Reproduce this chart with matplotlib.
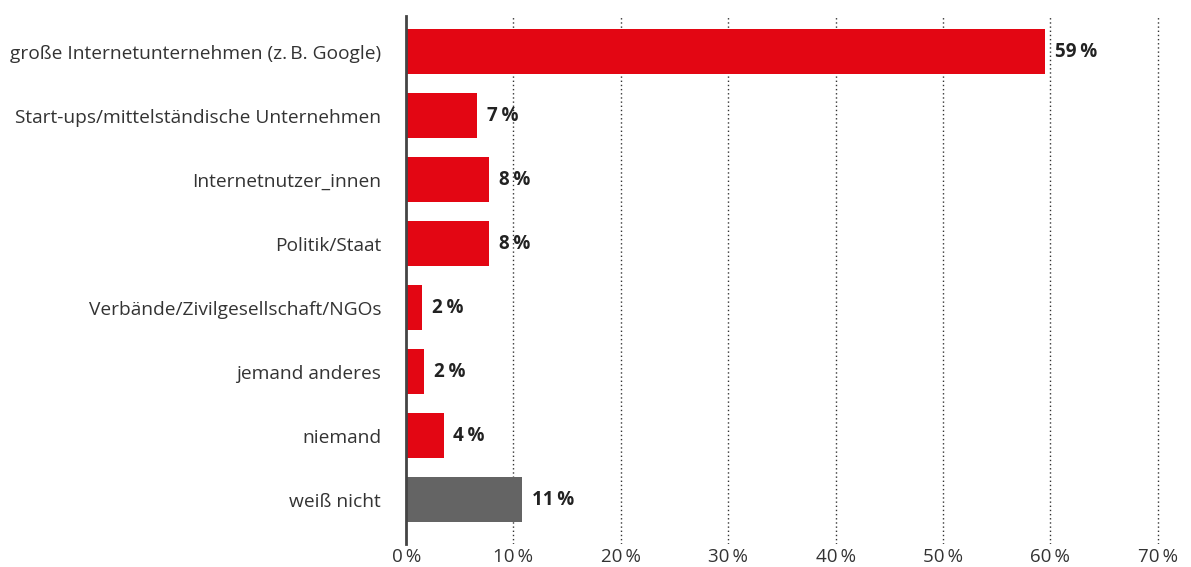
import matplotlib.pyplot as plt
import numpy as np

plt.rcParams['font.family'] = ['Open Sans', 'DejaVu Sans']

categories = ['große Internetunternehmen (z.\u2009B. Google)',
              'Start-ups/mittelständische Unternehmen',
              'Internetnutzer_innen',
              'Politik/Staat',
              'Verbände/Zivilgesellschaft/NGOs',
              'jemand anderes',
              'niemand',
              'weiß nicht']
values = [59.5, 6.6, 7.7, 7.7, 1.5, 1.7, 3.5, 10.8]
labels = ['59', '7', '8', '8', '2', '2', '4', '11']
colors = ['#e30613'] * 7 + ['#646464']
xticks = [0, 10, 20, 30, 40, 50, 60, 70]

fig = plt.figure(figsize=(11.91, 5.67), dpi=100)
ax = fig.add_axes([0.341, 0.04, 0.649, 0.932])

y = np.arange(len(categories))
ax.barh(y, values, height=0.71, color=colors, zorder=3)

for yi, v, lab in zip(y, values, labels):
    ax.annotate(lab + '\u2009%', (v, yi), xytext=(7, 0), textcoords='offset points',
                va='center', ha='left', fontsize=13.5, fontweight='bold', color='#222222')

ax.set_xlim(0, 72)
ax.set_ylim(7.70, -0.56)
ax.set_yticks(y)
ax.set_yticklabels(categories, fontsize=13.8, color='#333333')
ax.set_xticks(xticks)
ax.set_xticklabels([f'{t}\u2009%' for t in xticks], fontsize=13.5, color='#333333')
ax.tick_params(axis='y', length=0, pad=18)
ax.tick_params(axis='x', length=0, pad=3)

ax.grid(axis='x', linestyle=(0, (1, 2)), color='#333333', linewidth=1, zorder=0)
ax.xaxis.get_gridlines()[0].set_visible(False)
for s in ['top', 'right', 'bottom']:
    ax.spines[s].set_visible(False)
ax.spines['left'].set_color('#444444')
ax.spines['left'].set_linewidth(2)
ax.spines['left'].set_zorder(4)

fig.savefig('out.png', dpi=100)
